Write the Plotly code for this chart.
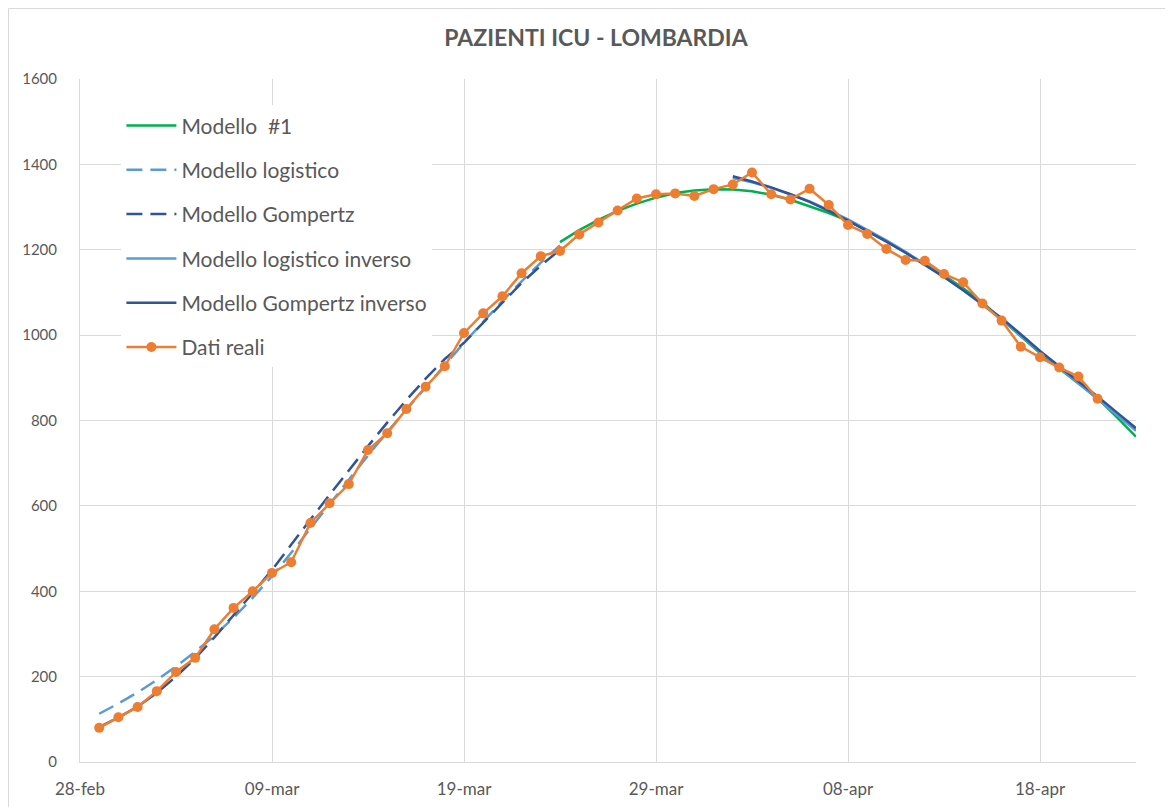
import plotly.graph_objects as go

# ---------------- data ----------------
real_dates = (["2020-02-29"] + [f"2020-03-{d:02d}" for d in range(1, 32)]
              + [f"2020-04-{d:02d}" for d in range(1, 22)])
real_values = [80, 105, 129, 166, 211, 244, 311, 361, 400, 443,
               468, 560, 606, 651, 731, 770, 827, 879, 927, 1005,
               1051, 1091, 1145, 1185, 1197, 1236, 1264, 1292, 1320, 1330,
               1332, 1326, 1342, 1353, 1381, 1330, 1318, 1343, 1305, 1258,
               1237, 1202, 1176, 1174, 1143, 1124, 1074, 1034, 973, 948,
               924, 903, 851]

growth_dates = ["2020-02-29"] + [f"2020-03-{d:02d}" for d in range(1, 25)]
logistic_values = [113, 137, 163, 192, 224, 258, 296, 338, 385, 435,
                   490, 547, 605, 662, 718, 773, 826, 878, 930, 982,
                   1032, 1080, 1126, 1170, 1210]
gompertz_values = [82, 104, 130, 162, 200, 243, 292, 343, 396, 450,
                   510, 568, 626, 684, 740, 795, 848, 898, 944, 982,
                   1030, 1076, 1122, 1163, 1200]

model1_dates = ([f"2020-03-{d:02d}" for d in range(24, 32)]
                + [f"2020-04-{d:02d}" for d in range(1, 24)])
model1_values = [1218, 1246, 1270, 1291, 1308, 1322, 1333, 1339,
                 1342, 1341, 1337, 1329, 1317, 1302, 1286, 1268, 1245, 1220,
                 1194, 1167, 1140, 1110, 1077, 1037, 998, 958, 922, 888,
                 852, 808, 762]

inverse_dates = [f"2020-04-{d:02d}" for d in range(2, 24)]
logistic_inv_values = [1368, 1358, 1345, 1330, 1313, 1293, 1271, 1247, 1222, 1195,
                       1167, 1137, 1105, 1072, 1037, 999, 960, 923, 887, 850,
                       813, 776]
gompertz_inv_values = [1372, 1360, 1346, 1330, 1312, 1291, 1268, 1244, 1219, 1193,
                       1165, 1136, 1105, 1073, 1040, 1002, 963, 927, 892, 856,
                       819, 782]

x_tick_vals = ["2020-02-28", "2020-03-09", "2020-03-19", "2020-03-29",
               "2020-04-08", "2020-04-18"]
x_tick_text = ["28-feb", "09-mar", "19-mar", "29-mar", "08-apr", "18-apr"]
y_tick_vals = [0, 200, 400, 600, 800, 1000, 1200, 1400, 1600]

# ---------------- figure ----------------
FONT = "Lato, 'Open Sans', sans-serif"
TXT = "#595959"
GRID = "#D9D9D9"

fig = go.Figure()
fig.add_trace(go.Scatter(x=model1_dates, y=model1_values, mode="lines",
                         name="Modello  #1", legendgroup="a",
                         line=dict(color="#00B050", width=2.5)))
fig.add_trace(go.Scatter(x=growth_dates, y=logistic_values, mode="lines",
                         name="Modello logistico", legendgroup="b",
                         line=dict(color="#5B9BD5", width=2.5, dash="16px,8px")))
fig.add_trace(go.Scatter(x=growth_dates, y=gompertz_values, mode="lines",
                         name="Modello Gompertz", legendgroup="c",
                         line=dict(color="#2F5597", width=2.5, dash="16px,8px")))
fig.add_trace(go.Scatter(x=inverse_dates, y=logistic_inv_values, mode="lines",
                         name="Modello logistico inverso", legendgroup="d",
                         line=dict(color="#5B9BD5", width=2.5)))
fig.add_trace(go.Scatter(x=inverse_dates, y=gompertz_inv_values, mode="lines",
                         name="Modello Gompertz inverso", legendgroup="e",
                         line=dict(color="#2F5597", width=2.5)))
fig.add_trace(go.Scatter(x=real_dates, y=real_values, mode="lines+markers",
                         name="Dati reali", legendgroup="f",
                         line=dict(color="#ED7D31", width=2.5),
                         marker=dict(color="#ED7D31", size=10)))

# page body has an 8px margin: figure sits at (8,8) in the window
fig.update_layout(
    width=1165, height=799,
    margin=dict(l=72, r=37, t=71, b=45, autoexpand=False),
    paper_bgcolor="white", plot_bgcolor="white",
    font=dict(family=FONT, color=TXT, size=15),
    title=dict(text="<b>PAZIENTI ICU - LOMBARDIA</b>", x=0.4886, xref="paper",
               xanchor="center", y=0.962, yanchor="middle",
               font=dict(family=FONT, size=23, color=TXT)),
    legend=dict(x=0.0392, y=0.9614, xanchor="left", yanchor="top",
                bgcolor="white", borderwidth=0,
                font=dict(family=FONT, size=21, color=TXT),
                tracegroupgap=14, itemwidth=50),
    shapes=[dict(type="rect", xref="paper", yref="paper",
                 x0=(-72 + 0.5) / 1056, x1=(1200 - 80) / 1056,
                 y0=-0.2, y1=1 + (71 - 0.5) / 683,
                 line=dict(color=GRID, width=1), fillcolor="rgba(0,0,0,0)")],
)
fig.update_xaxes(type="date", range=["2020-02-28", "2020-04-23"],
                 tickvals=x_tick_vals, ticktext=x_tick_text,
                 showgrid=True, gridcolor=GRID, gridwidth=1,
                 showline=True, linecolor=GRID, linewidth=1,
                 ticks="", ticklabelstandoff=12, automargin=False,
                 tickfont=dict(family=FONT, size=17, color=TXT), zeroline=False)
fig.update_yaxes(range=[0, 1600], tickvals=y_tick_vals,
                 showgrid=True, gridcolor=GRID, gridwidth=1,
                 showline=True, linecolor=GRID, linewidth=1,
                 ticks="", ticklabelstandoff=19, automargin=False,
                 tickfont=dict(family=FONT, size=15, color=TXT), zeroline=False)

fig.write_html("out.html")
